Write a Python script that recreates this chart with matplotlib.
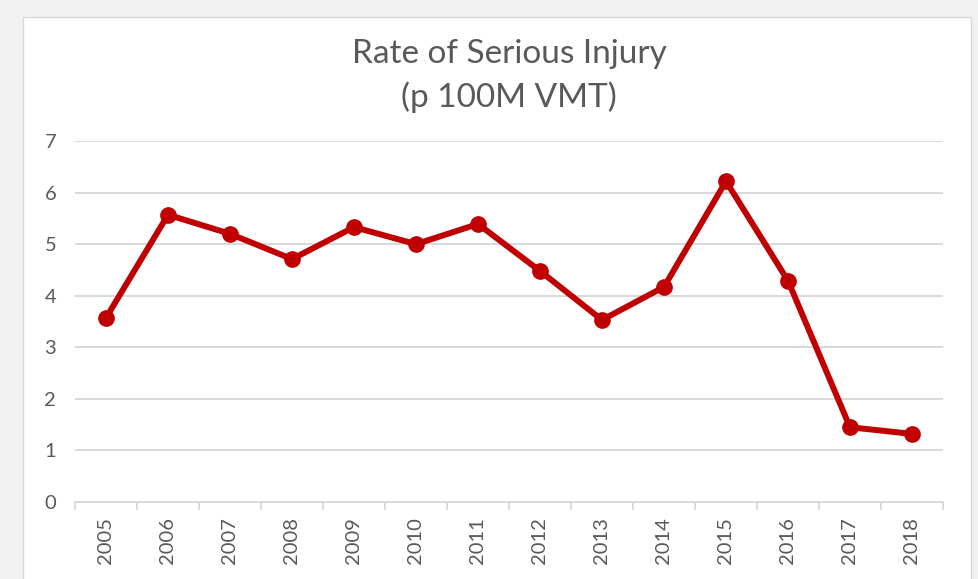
import matplotlib
matplotlib.use("Agg")
import matplotlib.pyplot as plt
from matplotlib.patches import Rectangle
import numpy as np

years = ["2005", "2006", "2007", "2008", "2009", "2010", "2011", "2012",
         "2013", "2014", "2015", "2016", "2017", "2018"]
rates = [3.57, 5.57, 5.20, 4.71, 5.33, 5.00, 5.39, 4.48, 3.53, 4.17, 6.22, 4.29, 1.45, 1.32]
yticks = [0, 1, 2, 3, 4, 5, 6, 7]
title = "Rate of Serious Injury\n(p 100M VMT)"

W, H = 979, 579
fig = plt.figure(figsize=(W / 100, H / 100), dpi=100)
fig.patch.set_facecolor("#F2F2F2")
bg = fig.add_axes([0, 0, 1, 1], zorder=-5)
bg.set_xlim(0, W)
bg.set_ylim(H, 0)
bg.axis("off")
bg.add_patch(Rectangle((23, 17), 971 - 23, H, facecolor="white",
                       edgecolor="#D9D9D9", linewidth=1.0))

left, right, top, bottom = 75, 943, 141, 502
ax = fig.add_axes([left / W, (H - bottom) / H, (right - left) / W, (bottom - top) / H], zorder=1)
ax.set_facecolor("none")

x = np.arange(len(years))
ax.plot(x, rates, color="#C00000", linewidth=4.3, marker="o", markersize=11,
        solid_joinstyle="round", zorder=3, clip_on=False)

ax.set_xlim(-0.5, len(years) - 0.5)
ax.set_ylim(0, 7)
ax.set_yticks(yticks)
ax.grid(axis="y", color="#D9D9D9", linewidth=1.4)
ax.set_axisbelow(True)
for s in ["top", "right", "left"]:
    ax.spines[s].set_visible(False)
ax.spines["bottom"].set_color("#D9D9D9")
ax.spines["bottom"].set_linewidth(1.4)

ax.set_xticks(x)
ax.set_xticklabels(years, rotation=90, fontfamily="Lato", fontsize=14.5, color="#595959")
ax.tick_params(axis="x", length=0, pad=11)
ax.set_xticks(np.arange(-0.5, len(years), 1.0), minor=True)
ax.tick_params(axis="x", which="minor", length=6, width=1.4, color="#D9D9D9")
ax.tick_params(axis="y", length=0, pad=22, labelsize=14.5, labelcolor="#595959")
for lab in ax.get_yticklabels():
    lab.set_fontfamily("Lato")
    lab.set_horizontalalignment("left")

fig.text((left + right) / 2 / W, 1 - 76 / H, title, ha="center", va="center",
         fontfamily="Lato", fontsize=24, color="#595959", linespacing=1.45)

fig.savefig("out.png", dpi=100, facecolor=fig.get_facecolor())
